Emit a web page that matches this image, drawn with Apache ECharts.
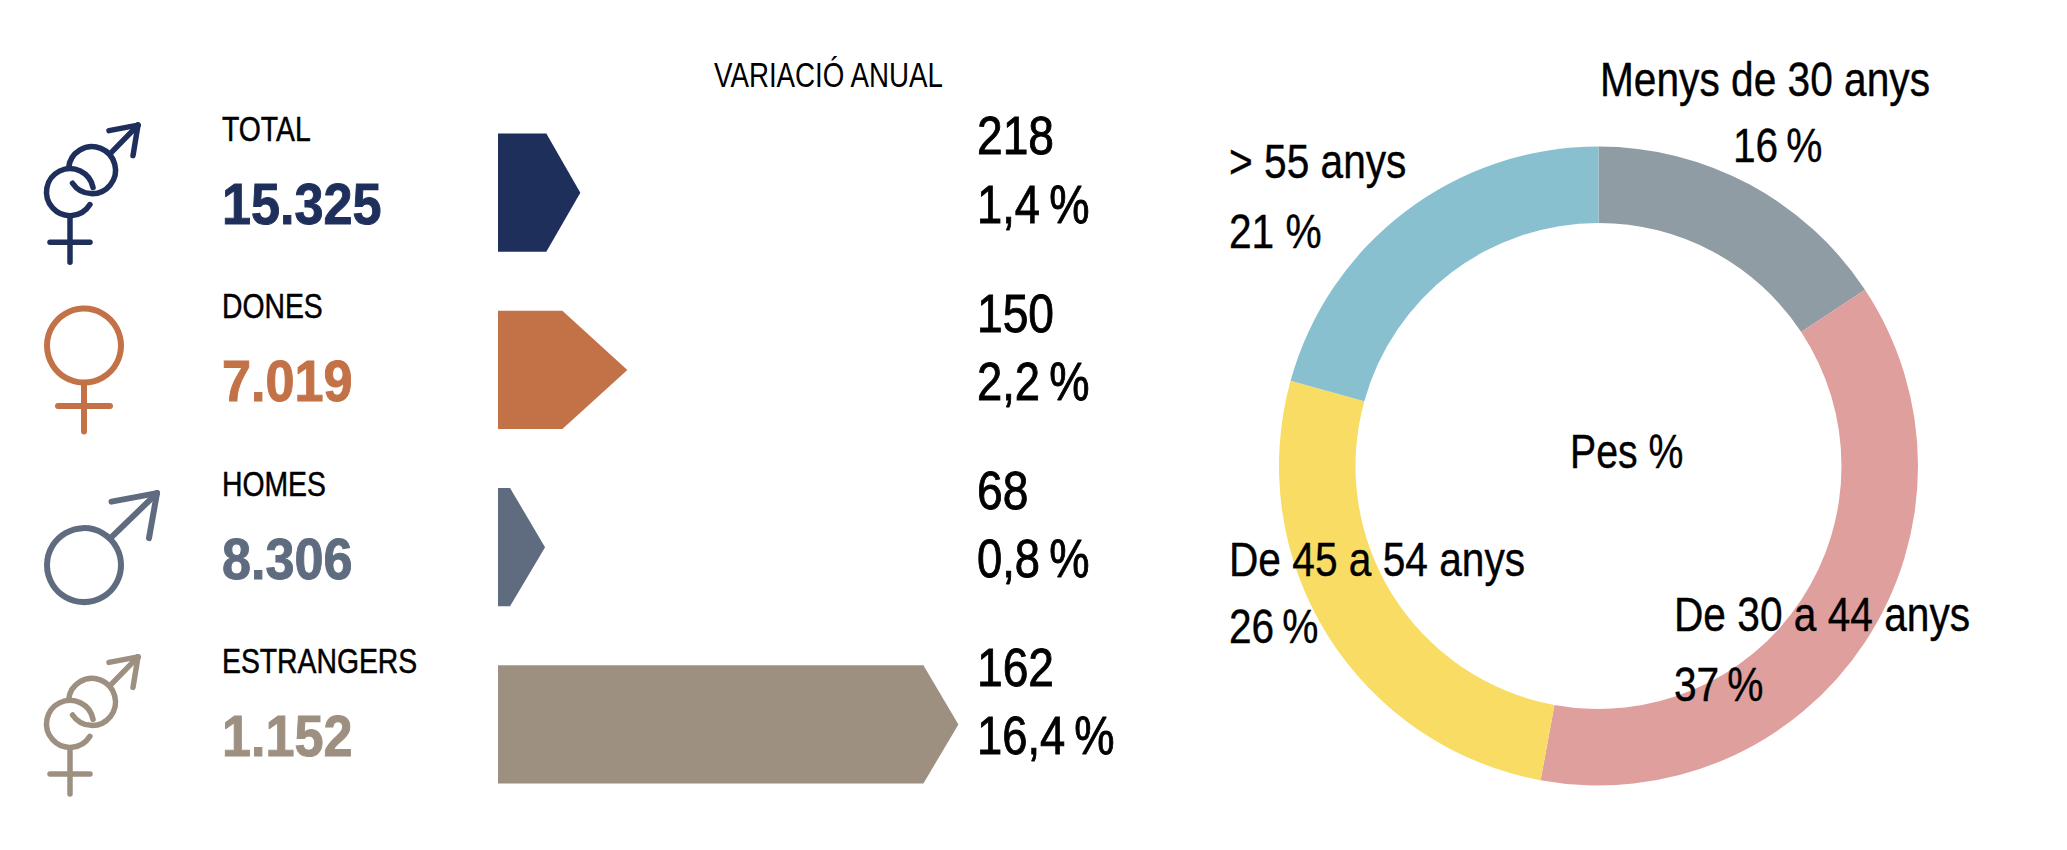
<!DOCTYPE html>
<html>
<head>
<meta charset="utf-8">
<style>html,body{margin:0;padding:0;background:#fff}#c{width:2067px;height:850px}</style>
<script src="https://cdn.jsdelivr.net/npm/echarts@6/dist/echarts.min.js"></script>
</head>
<body>
<div id="c"></div>
<script>
const categories = ['TOTAL', 'DONES', 'HOMES', 'ESTRANGERS'];
const totals = ['15.325', '7.019', '8.306', '1.152'];
const absoluteChange = ['218', '150', '68', '162'];
const percentChange = ['1,4\u2009%', '2,2\u2009%', '0,8\u2009%', '16,4\u2009%'];
const arrowLengths = [1.4, 2.2, 0.8, 7.83];
const ageGroups = ['Menys de 30 anys', 'De 30 a 44 anys', 'De 45 a 54 anys', '> 55 anys'];
const ageShares = [15.7, 37.2, 26.4, 20.7];
const ageShareLabels = ['16\u2009%', '37\u2009%', '26\u2009%', '21 %'];

const rowColors = ['#1f2f5c', '#c37146', '#5f6c80', '#9e9080'];
const tipDepths = [34, 65, 35, 35];
const iconKinds = ['both', 'female', 'male', 'both'];
const sliceColors = ['#909ca3', '#df9f9d', '#f8dc64', '#89c0d0'];
const FONT = '"Liberation Sans",Arial,sans-serif';

const deg = d => d * Math.PI / 180;
function strokeStyle(color, w) { return { stroke: color, lineWidth: w, fill: 'none', lineCap: 'round', lineJoin: 'round' }; }
function seg(x1, y1, x2, y2, st) { return { type: 'line', shape: { x1, y1, x2, y2 }, style: st }; }
function ring(cx, cy, r, st) { return { type: 'circle', shape: { cx, cy, r }, style: st }; }
function arc(cx, cy, r, a, b, st) {
  return { type: 'arc', shape: { cx, cy, r, startAngle: deg(a), endAngle: deg(b), clockwise: true }, style: st };
}
function iconParts(kind, cy, color) {
  const p = [];
  if (kind === 'both') {
    const st = strokeStyle(color, 5.5);
    p.push(arc(70, cy - 0.5, 23.5, 32, 349, st));
    p.push(arc(92, cy - 22.5, 23.5, 185, 506, st));
    p.push(seg(110.7, cy - 39.5, 138, cy - 67.5, st));
    p.push(seg(109, cy - 62, 138, cy - 67.5, st));
    p.push(seg(133, cy - 37, 138, cy - 67.5, st));
    p.push(seg(70, cy + 24.5, 70, cy + 69.5, st));
    p.push(seg(50, cy + 49.5, 90, cy + 49.5, st));
  } else if (kind === 'female') {
    const st = strokeStyle(color, 6);
    p.push(ring(84, cy - 24.3, 37, st));
    p.push(seg(84, cy + 14, 84, cy + 61.5, st));
    p.push(seg(58, cy + 36, 110, cy + 36, st));
  } else {
    const st = strokeStyle(color, 6);
    p.push(ring(84, cy + 18, 37, st));
    p.push(seg(111.5, cy - 10, 157, cy - 54, st));
    p.push(seg(111.5, cy - 45.5, 157, cy - 54, st));
    p.push(seg(149, cy - 9, 157, cy - 54, st));
  }
  return p;
}
function txt(text, x, y, size, fill, sx, extra, weight) {
  return { type: 'text', x, y, scaleX: sx, silent: true, z: 100,
    style: { text, x: 0, y: 0, fill, stroke: fill, lineWidth: extra || 0, fontSize: size, fontFamily: FONT, fontWeight: weight || 'normal', align: 'left', verticalAlign: 'middle' } };
}
function renderRow(params, api) {
  const i = params.dataIndex;
  const start = api.coord([0, i]);
  const end = api.coord([api.value(0), i]);
  const h = api.size([0, 1])[1] * 0.667;
  const cy = start[1];
  const color = rowColors[i];
  const sh = end[0] - tipDepths[i];
  const children = [
    { type: 'polygon', shape: { points: [[start[0], cy - h / 2], [sh, cy - h / 2], [end[0], cy], [sh, cy + h / 2], [start[0], cy + h / 2]] }, style: { fill: color } },
    txt(categories[i], 222, cy - 63.5, 35, '#000', 0.81, 0.5),
    txt(totals[i], 222, cy + 11.5, 58, color, 0.9, 1, 'bold'),
    txt(absoluteChange[i], 977, cy - 56.5, 54, '#000', 0.855, 0.9),
    txt(percentChange[i], 977, cy + 11.5, 54, '#000', 0.84, 0.9)
  ].concat(iconParts(iconKinds[i], cy, color));
  return { type: 'group', children };
}

// anchor of each pie label: name line (x, y), value line (x, y)
const labelSpots = [
  [1600, 79, 1733, 145],
  [1674, 614, 1674, 684],
  [1229, 559, 1229, 626],
  [1229, 161, 1229, 231]
];
const pieLabels = [];
ageGroups.forEach((name, i) => {
  const s = labelSpots[i];
  pieLabels.push(txt(name, s[0], s[1], 49, '#000', 0.83, 0.4));
  pieLabels.push(txt(ageShareLabels[i], s[2], s[3], 49, '#000', 0.83, 0.4));
});

const chart = echarts.init(document.getElementById('c'), null, { renderer: 'svg' });
chart.setOption({
  animation: false,
  backgroundColor: '#fff',
  grid: { left: 498, top: 104, width: 588, height: 709 },
  xAxis: { type: 'value', min: 0, max: 10, show: false },
  yAxis: { type: 'category', inverse: true, data: categories, show: false },
  series: [
    {
      type: 'pie', silent: true, z: 1,
      center: [1598.5, 466], radius: [243, 319.5], startAngle: 90, clockwise: true,
      data: ageGroups.map((name, i) => ({ name, value: ageShares[i], itemStyle: { color: sliceColors[i] } })),
      label: { show: false },
      labelLine: { show: false }
    },
    {
      type: 'custom', clip: false, silent: true,
      renderItem: renderRow,
      data: arrowLengths.map((v, i) => [v, i]),
      encode: { x: 0, y: 1 }
    }
  ],
  graphic: { elements: [
    txt('VARIACIÓ ANUAL', 714, 75, 36, '#000', 0.77),
    txt('Pes %', 1570, 451, 49, '#000', 0.8, 0.4)
  ].concat(pieLabels) }
});
</script>
</body>
</html>
